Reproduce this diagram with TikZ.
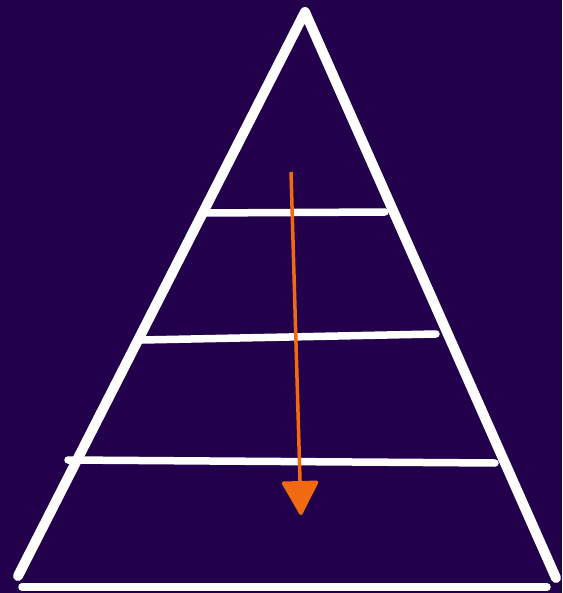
\documentclass[tikz,border=0pt]{standalone}
\usetikzlibrary{arrows.meta}

\definecolor{nightpurple}{HTML}{22004C}
\definecolor{chalkorange}{HTML}{F26A10}

\tikzset{
  chalk/.style={draw=white, line width=10pt, line cap=round, line join=round},
  shelf/.style={draw=white, line width=7.5pt, line cap=round},
  flow/.style={draw=chalkorange, line width=3.5pt,
               -{Triangle[width=38pt,length=36pt,round]}}
}

\begin{document}
\begin{tikzpicture}[x=1pt, y=-1pt]
    % background
    \fill[nightpurple] (0,0) rectangle (562,593);
    \useasboundingbox (0,0) rectangle (562,593);

    % pyramid outline
    \coordinate (apex) at (305,12);
    \coordinate (leftfoot) at (18,576);
    \coordinate (rightfoot) at (556,578);
    \draw[chalk] (leftfoot) -- (apex) -- (rightfoot);

    % base
    \coordinate (baseL) at (22,587);
    \coordinate (baseR) at (547,587);
    \draw[shelf] (baseL) -- (baseR);

    % levels
    \coordinate (lvlAL) at (202,213);
    \coordinate (lvlAR) at (385,212);
    \coordinate (lvlBL) at (142,340);
    \coordinate (lvlBR) at (436,334);
    \coordinate (lvlCL) at (68,460);
    \coordinate (lvlCR) at (495,463);
    \draw[shelf] (lvlAL) -- (lvlAR);
    \draw[shelf] (lvlBL) -- (lvlBR);
    \draw[shelf] (lvlCL) -- (lvlCR);

    % arrow down
    \coordinate (flowtop) at (291,172);
    \coordinate (flowtip) at (301,515);
    \draw[flow] (flowtop) -- (flowtip);
\end{tikzpicture}
\end{document}
